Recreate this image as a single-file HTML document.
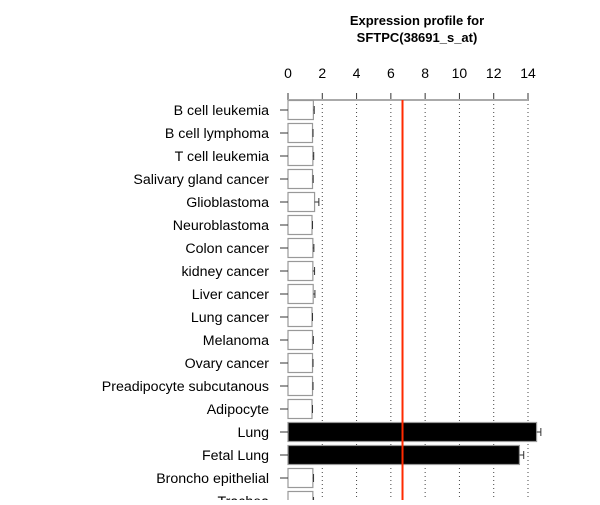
<!DOCTYPE html>
<html><head><meta charset="utf-8"><style>
body{margin:0;background:#fff;width:600px;height:500px;overflow:hidden}
svg text{font-family:"Liberation Sans",Arial,sans-serif}
</style></head><body>
<svg id="chart" width="600" height="500">
<text x="417" y="25" text-anchor="middle" font-size="13" font-weight="bold">Expression profile for</text>
<text x="417" y="42" text-anchor="middle" font-size="13" font-weight="bold">SFTPC(38691_s_at)</text>
<g id="plot"></g>
</svg>
<script>
const categories=["B cell leukemia","B cell lymphoma","T cell leukemia","Salivary gland cancer","Glioblastoma","Neuroblastoma","Colon cancer","kidney cancer","Liver cancer","Lung cancer","Melanoma","Ovary cancer","Preadipocyte subcutanous","Adipocyte","Lung","Fetal Lung","Broncho epithelial","Trachea"];
const values=[1.48,1.43,1.45,1.43,1.55,1.4,1.45,1.45,1.47,1.4,1.43,1.43,1.43,1.4,14.5,13.5,1.45,1.45];
const errors=[0.05,0.03,0.05,0.04,0.25,0.03,0.06,0.1,0.1,0.03,0.05,0.03,0.03,0.03,0.25,0.25,0.04,0.04];
const highlight=[0,0,0,0,0,0,0,0,0,0,0,0,0,0,1,1,0,0];
const ticks=[0,2,4,6,8,10,12,14];
const refLine=6.68;
const NS="http://www.w3.org/2000/svg";
const g=document.getElementById('plot');
const x=v=>288+v*(240/14);
const y=i=>110+i*23;
function mk(t,a){const e=document.createElementNS(NS,t);for(const k in a)e.setAttribute(k,a[k]);g.appendChild(e);return e;}
ticks.forEach(t=>{
 if(t>0){const l=mk('line',{x1:x(t),x2:x(t),y1:100,y2:500,stroke:'#444','stroke-dasharray':'1,3','stroke-width':1});
 
 }
 const tk=mk('line',{x1:x(t),x2:x(t),y1:93,y2:100,stroke:'#333'});
 
 
 const tx=mk('text',{x:x(t),y:78,'text-anchor':'middle','font-size':14});
 tx.textContent=t;
 
 
});
const ax=mk('line',{x1:x(0),x2:x(14),y1:100,y2:100,stroke:'#aaa','stroke-width':2});


categories.forEach((c,i)=>{
 const cy=y(i);
 const r=mk('rect',{x:x(0),y:cy-9.5,width:x(values[i])-x(0),height:19,fill:highlight[i]?'#000':'#fff',stroke:'#999','stroke-width':1.2});
 
 
 const e1=x(values[i]),e2=x(values[i]+errors[i]);
 const el=mk('path',{d:`M${e1},${cy}H${e2}M${e2},${cy-4}V${cy+4}`,stroke:'#333',fill:'none'});
 
 
 const tk=mk('line',{x1:280,x2:288,y1:cy,y2:cy,stroke:'#333'});
 
 
 const t=mk('text',{x:269,y:cy+5,'text-anchor':'end','font-size':14.2});
 t.textContent=c;
 
 
});
const rl=mk('line',{x1:x(refLine),x2:x(refLine),y1:100,y2:500,stroke:'#ff2a00','stroke-width':2});


</script>
</body></html>
